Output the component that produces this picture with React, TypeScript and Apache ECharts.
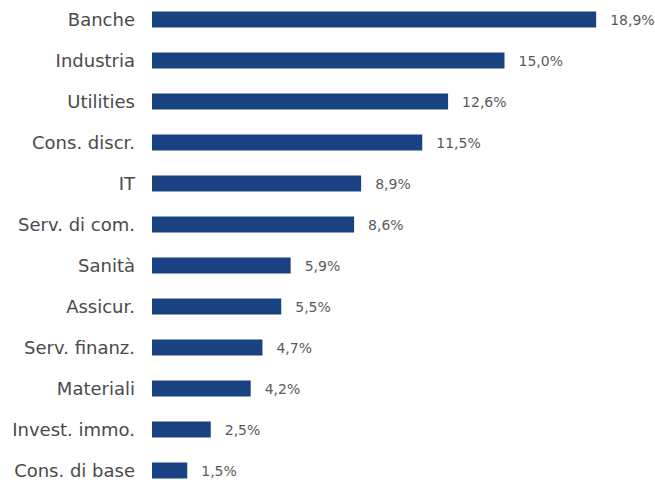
import React, { useEffect, useRef } from "react";
import * as echarts from "echarts";

const categories = [
  "Banche",
  "Industria",
  "Utilities",
  "Cons. discr.",
  "IT",
  "Serv. di com.",
  "Sanità",
  "Assicur.",
  "Serv. finanz.",
  "Materiali",
  "Invest. immo.",
  "Cons. di base",
];
const values = [18.9, 15.0, 12.6, 11.5, 8.9, 8.6, 5.9, 5.5, 4.7, 4.2, 2.5, 1.5];

const FONT = "'DejaVu Sans', sans-serif";

export default function App() {
  const ref = useRef<HTMLDivElement>(null);
  useEffect(() => {
    if (!ref.current) return;
    const chart = echarts.init(ref.current, undefined, { renderer: "svg" });
    chart.setOption({
      animation: false,
      grid: { left: 152, width: 470, top: -1, height: 492, outerBoundsMode: "none", containLabel: false },
      xAxis: {
        type: "value",
        min: 0,
        max: 20,
        show: false,
      },
      yAxis: {
        type: "category",
        inverse: true,
        data: categories,
        axisLine: { show: false },
        axisTick: { show: false },
        axisLabel: {
          margin: 17,
          fontSize: 18,
          lineHeight: 16,
          color: "#4a4a4a",
          fontFamily: FONT,
          fontWeight: "normal",
        },
      },
      series: [
        {
          type: "bar",
          data: values,
          barWidth: 16,
          itemStyle: { color: "#1a4282" },
          label: {
            show: true,
            position: "right",
            distance: 14,
            fontSize: 14,
            color: "#5a5a5a",
            fontFamily: FONT,
            fontWeight: "normal",
            formatter: (p: any) => p.value.toFixed(1).replace(".", ",") + "%",
          },
        },
      ],
    });
    return () => chart.dispose();
  }, []);
  return <div ref={ref} style={{ width: 655, height: 480, position: "absolute", left: 0, top: 0 }} />;
}
